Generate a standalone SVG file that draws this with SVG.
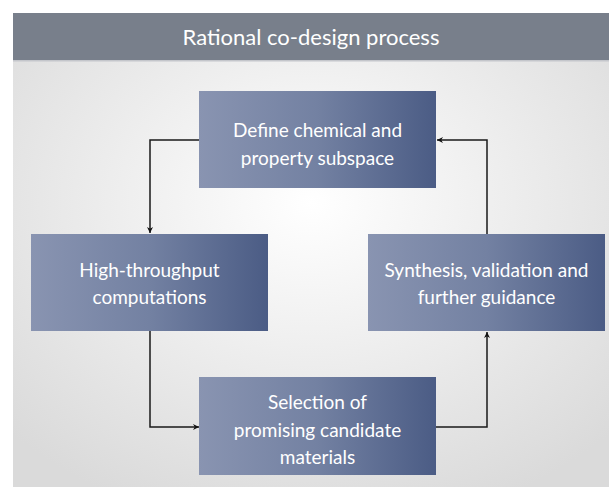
<svg xmlns="http://www.w3.org/2000/svg" width="609" height="487" viewBox="0 0 609 487">
<style>
.box{fill:url(#boxGrad);}
.lbl{font-family:Lato,"Open Sans","DejaVu Sans",sans-serif;font-size:19px;fill:#ffffff;text-anchor:middle;}
.title{font-family:Lato,"Open Sans","DejaVu Sans",sans-serif;font-size:22px;fill:#ffffff;text-anchor:middle;}
.conn{fill:none;stroke:#1a1a1a;stroke-width:1.5;}
</style>
<defs>
<linearGradient id="boxGrad" x1="0" y1="0" x2="1" y2="0">
<stop offset="0" stop-color="#8994b1"/>
<stop offset="0.5" stop-color="#7381a2"/>
<stop offset="1" stop-color="#4b5c85"/>
</linearGradient>
<radialGradient id="bgGrad" cx="0.5" cy="0.4" r="0.7">
<stop offset="0" stop-color="#ffffff"/>
<stop offset="1" stop-color="#dadada"/>
</radialGradient>
<marker id="arr" viewBox="0 0 10 10" refX="10" refY="5" markerWidth="6" markerHeight="6" markerUnits="userSpaceOnUse" orient="auto">
<path d="M0,0 L10,5 L0,10 L3,5 Z" fill="#111"/>
</marker>
</defs>
<rect x="0" y="0" width="609" height="487" fill="#ffffff"/>
<rect x="13" y="13" width="596" height="474" fill="url(#bgGrad)"/>
<rect x="13" y="13" width="596" height="47" fill="#787f8b"/>
<rect x="13" y="60" width="596" height="1.5" fill="#c4c6cb"/>
<text class="title" x="311" y="45">Rational co-design process</text>
<g id="connectors">
<path class="conn" d="M199,140 H150 V233" marker-end="url(#arr)"/>
<path class="conn" d="M150,331 V427 H199" marker-end="url(#arr)"/>
<path class="conn" d="M436,427 H487 V332" marker-end="url(#arr)"/>
<path class="conn" d="M487,234 V140 H437" marker-end="url(#arr)"/>
</g>
<g id="define">
<rect class="box" x="199" y="91" width="237" height="97"/>
<text class="lbl" x="317.5" y="137">Define chemical and</text>
<text class="lbl" x="317.5" y="165">property subspace</text>
</g>
<g id="htc">
<rect class="box" x="31" y="234" width="237" height="97"/>
<text class="lbl" x="149.5" y="277">High-throughput</text>
<text class="lbl" x="149.5" y="304">computations</text>
</g>
<g id="synthesis">
<rect class="box" x="368" y="234" width="237" height="97"/>
<text class="lbl" x="486.5" y="277">Synthesis, validation and</text>
<text class="lbl" x="486.5" y="304">further guidance</text>
</g>
<g id="selection">
<rect class="box" x="199" y="377" width="237" height="98"/>
<text class="lbl" x="317.5" y="409">Selection of</text>
<text class="lbl" x="317.5" y="437">promising candidate</text>
<text class="lbl" x="317.5" y="464">materials</text>
</g>
</svg>
